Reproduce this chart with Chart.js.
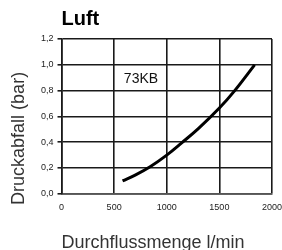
<!DOCTYPE html>
<html>
<head>
<meta charset="utf-8">
<script src="https://cdn.jsdelivr.net/npm/chart.js@4.4.1/dist/chart.umd.min.js"></script>
<style>
    html, body { margin: 0; padding: 0; background: #fff; }
    #wrap { width: 282px; height: 250px; }
</style>
</head>
<body>
<div id="wrap"><canvas id="luftChart"></canvas></div>
<script>
const flowRate = [580, 700, 842, 1000, 1142, 1300, 1500, 1646, 1835];
const pressureDrop = [0.10, 0.145, 0.21, 0.30, 0.395, 0.505, 0.665, 0.80, 1.00];
const xTicks = [0, 500, 1000, 1500, 2000];
const yTicks = [0, 0.2, 0.4, 0.6, 0.8, 1.0, 1.2];
const curveLabel = '73KB';
const curveLabelAt = [755, 0.89];

const font = "'Liberation Sans', Arial, Helvetica, sans-serif";

// Beschriftung im Diagramm + y-Achsentitel
const textPlugin = {
    id: 'texts',
    afterDraw(chart) {
        const ctx = chart.ctx;
        const x = chart.scales.x, y = chart.scales.y;
        ctx.save();
        ctx.fillStyle = '#111';
        ctx.font = '14px ' + font;
        ctx.textAlign = 'center';
        ctx.textBaseline = 'middle';
        ctx.fillText(curveLabel, x.getPixelForValue(curveLabelAt[0]), y.getPixelForValue(curveLabelAt[1]));

        const area = chart.chartArea;
        ctx.translate(19, (area.top + area.bottom) / 2 + 22);
        ctx.rotate(-Math.PI / 2);
        ctx.font = '18px ' + font;
        ctx.fillStyle = '#333';
        ctx.fillText('Druckabfall (bar)', 0, 0);
        ctx.restore();
    }
};

new Chart(document.getElementById('luftChart'), {
    type: 'scatter',
    data: {
        datasets: [{
            label: curveLabel,
            data: flowRate.map((v, i) => ({ x: v, y: pressureDrop[i] })),
            showLine: true,
            borderColor: '#000',
            borderWidth: 3,
            pointRadius: 0,
            tension: 0.4,
            fill: false
        }]
    },
    options: {
        responsive: true,
        maintainAspectRatio: false,
        animation: false,
        layout: { padding: { left: 37, right: 0, top: 0, bottom: 0 } },
        plugins: {
            legend: { display: false },
            tooltip: { enabled: false },
            title: {
                display: true,
                text: 'Luft',
                align: 'start',
                fullSize: false,
                color: '#000',
                font: { family: font, size: 20, weight: 'bold', lineHeight: 1 },
                padding: { top: 9, bottom: 10 }
            }
        },
        scales: {
            x: {
                type: 'linear',
                min: 0,
                max: 2000,
                afterBuildTicks: (axis) => { axis.ticks = xTicks.map(v => ({ value: v })); },
                ticks: {
                    color: '#222',
                    font: { family: font, size: 9 },
                    padding: 0,
                    maxRotation: 0,
                    callback: (v) => String(v)
                },
                grid: { color: '#1a1a1a', lineWidth: 1.6, tickLength: 8, tickColor: 'rgba(0,0,0,0)' },
                border: { color: '#555', width: 1.8 },
                title: {
                    display: true,
                    text: 'Durchflussmenge l/min',
                    align: 'start',
                    color: '#333',
                    font: { family: font, size: 18, lineHeight: 0.8 },
                    padding: { top: 23, bottom: 0 }
                }
            },
            y: {
                type: 'linear',
                min: 0,
                max: 1.2,
                afterBuildTicks: (axis) => { axis.ticks = yTicks.map(v => ({ value: v })); },
                ticks: {
                    color: '#222',
                    font: { family: font, size: 9 },
                    padding: 4,
                    callback: (v) => v.toFixed(1).replace('.', ',')
                },
                grid: { color: '#1a1a1a', lineWidth: 1.6, tickLength: 4, tickColor: '#1a1a1a' },
                border: { color: '#1a1a1a', width: 1.6 }
            }
        }
    },
    plugins: [textPlugin]
});
</script>
</body>
</html>
